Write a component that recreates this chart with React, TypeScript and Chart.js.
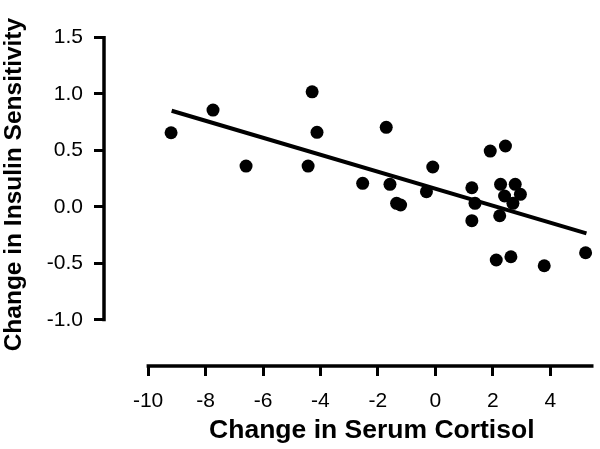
import React, { useEffect, useRef } from "react";
import { Chart, registerables } from "chart.js";

Chart.register(...registerables);

// Scatter points: change in serum cortisol (x) vs change in insulin sensitivity (y)
const cortisolChange = [
  -9.2, -7.74, -4.29, -4.12, -6.59, -4.43, -1.71, -2.53, -1.58, -1.35,
  -1.21, -0.09, -0.31, 1.27, 1.38, 1.27, 1.91, 2.44, 2.27, 2.78,
  2.41, 2.96, 2.7, 2.24, 2.12, 2.63, 3.79, 5.23,
];
const insulinChange = [
  0.656, 0.857, 1.019, 0.66, 0.361, 0.361, 0.704, 0.208, 0.199, 0.031,
  0.016, 0.353, 0.134, 0.169, 0.031, -0.123, 0.494, 0.539, 0.199, 0.199,
  0.096, 0.111, 0.031, -0.079, -0.471, -0.442, -0.522, -0.407,
];

// Regression line end points
const fitX = [-9.18, 5.26];
const fitY = [0.851, -0.235];

// Tick labels
const xTicks = [-10, -8, -6, -4, -2, 0, 2, 4];
const yTicks = [-1.0, -0.5, 0.0, 0.5, 1.0, 1.5];

const xTitle = "Change in Serum Cortisol";
const yTitle = "Change in Insulin Sensitivity";

const FONT = '"Liberation Sans", Arial, Helvetica, sans-serif';

export default function App() {
  const ref = useRef<HTMLCanvasElement | null>(null);

  useEffect(() => {
    if (!ref.current) return;

    const axesPlugin = {
      id: "prismAxes",
      afterDraw(chart: any) {
        const { ctx, chartArea, scales } = chart;
        const xs = scales.x;
        const ys = scales.y;
        ctx.save();
        ctx.strokeStyle = "#000";
        ctx.lineWidth = 3.5;
        ctx.lineCap = "butt";
        // y axis line
        const yTop = ys.getPixelForValue(yTicks[yTicks.length - 1]);
        const yBot = ys.getPixelForValue(yTicks[0]);
        ctx.beginPath();
        ctx.moveTo(chartArea.left, yTop - 1.5);
        ctx.lineTo(chartArea.left, yBot + 1.5);
        ctx.stroke();
        // x axis line
        const xL = xs.getPixelForValue(xTicks[0]);
        ctx.beginPath();
        ctx.moveTo(xL - 1.5, chartArea.bottom);
        ctx.lineTo(chartArea.right, chartArea.bottom);
        ctx.stroke();

        // axis titles
        ctx.fillStyle = "#000";
        ctx.textAlign = "center";
        ctx.textBaseline = "middle";
        ctx.font = `bold 26.5px ${FONT}`;
        ctx.fillText(xTitle, (xL + chartArea.right) / 2 + 1, 431);
        ctx.save();
        ctx.translate(14, (yTop + yBot) / 2 + 6);
        ctx.rotate(-Math.PI / 2);
        ctx.font = `bold 24.5px ${FONT}`;
        ctx.fillText(yTitle, 0, 0);
        ctx.restore();
        ctx.restore();
      },
    };

    const chart = new Chart(ref.current, {
      type: "scatter",
      data: {
        datasets: [
          {
            type: "line",
            data: fitX.map((x, i) => ({ x, y: fitY[i] })),
            borderColor: "#000",
            borderWidth: 4,
            pointRadius: 0,
            fill: false,
            clip: false as any,
          } as any,
          {
            type: "scatter",
            data: cortisolChange.map((x, i) => ({ x, y: insulinChange[i] })),
            backgroundColor: "#000",
            borderColor: "#000",
            borderWidth: 0,
            pointRadius: 6.5,
            clip: false as any,
          } as any,
        ],
      },
      options: {
        responsive: false,
        animation: false,
        layout: { padding: { top: 37.5, right: 2, left: 0, bottom: 0 } },
        plugins: {
          legend: { display: false },
          tooltip: { enabled: false },
        },
        scales: {
          x: {
            type: "linear",
            min: -11.535,
            max: 5.505,
            afterFit: (s: any) => {
              s.height = 83;
            },
            afterBuildTicks: (s: any) => {
              s.ticks = xTicks.map((v) => ({ value: v }));
            },
            border: { display: false },
            grid: {
              display: true,
              drawOnChartArea: false,
              drawTicks: true,
              tickLength: 10,
              lineWidth: 3,
              color: "#000",
            },
            ticks: {
              color: "#000",
              font: { family: FONT, size: 21 },
              padding: 13,
              maxRotation: 0,
              autoSkip: false,
              callback: (v: any) => String(v),
            },
          },
          y: {
            type: "linear",
            min: -1.41,
            max: 1.5,
            afterFit: (s: any) => {
              s.width = 104;
            },
            afterBuildTicks: (s: any) => {
              s.ticks = yTicks.map((v) => ({ value: v }));
            },
            border: { display: false },
            grid: {
              display: true,
              drawOnChartArea: false,
              drawTicks: true,
              tickLength: 10,
              lineWidth: 3,
              color: "#000",
            },
            ticks: {
              color: "#000",
              font: { family: FONT, size: 21 },
              padding: 11,
              autoSkip: false,
              callback: (v: any) => Number(v).toFixed(1),
            },
          },
        },
      },
      plugins: [axesPlugin],
    });

    return () => chart.destroy();
  }, []);

  return (
    <div
      style={{
        position: "fixed",
        left: 0,
        top: 0,
        width: 600,
        height: 449,
        background: "#fff",
      }}
    >
      <canvas ref={ref} width={600} height={449} style={{ display: "block" }} />
    </div>
  );
}
